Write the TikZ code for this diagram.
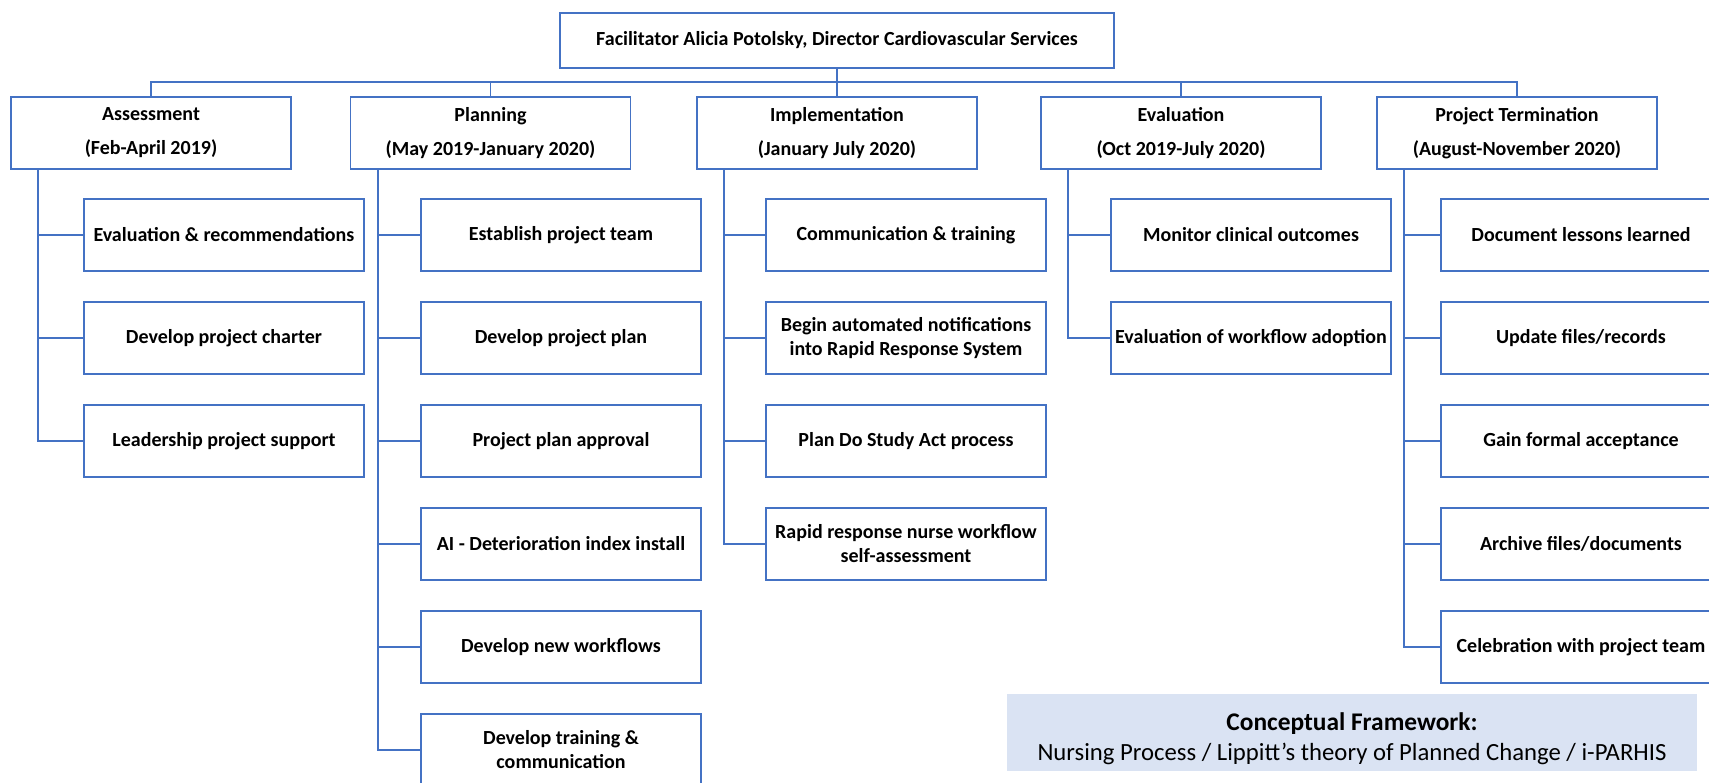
\documentclass[tikz,border=0pt]{standalone}
\usepackage{fontspec}
\setmainfont{Carlito}
\definecolor{lb}{HTML}{4472C4}
\definecolor{fw}{HTML}{DAE3F3}
\begin{document}
\begin{tikzpicture}[x=1pt,y=-1pt,
  box/.style={draw=lb, line width=1.6pt, fill=white, minimum width=280pt, minimum height=72pt,
    align=center, inner sep=0pt, font=\fontsize{20}{24}\selectfont\bfseries},
  phase/.style={box, font=\fontsize{20}{34}\selectfont\bfseries},
  link/.style={draw=lb, line width=1.6pt}]
\useasboundingbox (0,0) rectangle (1709,783);
\clip (0,0) rectangle (1709,783);
\fill[white] (0,0) rectangle (1709,783);
% top
\node[box, minimum width=554pt, minimum height=55pt] (top) at (837,40.5) {Facilitator Alicia Potolsky, Director Cardiovascular Services};
% phases
\node[phase] (ass) at (151,133) {Assessment\\(Feb-April 2019)};
\node[phase] (pla) at (490.5,133) {Planning\\(May 2019-January 2020)};
\node[phase] (imp) at (837,133) {Implementation\\(January July 2020)};
\node[phase] (eva) at (1181,133) {Evaluation\\(Oct 2019-July 2020)};
\node[phase] (ter) at (1517,133) {Project Termination\\(August-November 2020)};
% assessment children
\node[box] (a1) at (224,235) {Evaluation \& recommendations};
\node[box] (a2) at (224,338) {Develop project charter};
\node[box] (a3) at (224,441) {Leadership project support};
% planning children
\node[box] (p1) at (561,235) {Establish project team};
\node[box] (p2) at (561,338) {Develop project plan};
\node[box] (p3) at (561,441) {Project plan approval};
\node[box] (p4) at (561,544) {AI - Deterioration index install};
\node[box] (p5) at (561,647) {Develop new workflows};
\node[box] (p6) at (561,750) {Develop training \&\\communication};
% implementation children
\node[box] (i1) at (906,235) {Communication \& training};
\node[box] (i2) at (906,338) {Begin automated notifications\\into Rapid Response System};
\node[box] (i3) at (906,441) {Plan Do Study Act process};
\node[box] (i4) at (906,544) {Rapid response nurse workflow\\self-assessment};
% evaluation children
\node[box] (e1) at (1251,235) {Monitor clinical outcomes};
\node[box] (e2) at (1251,338) {Evaluation of workflow adoption};
% termination children
\node[box] (t1) at (1581,235) {Document lessons learned};
\node[box] (t2) at (1581,338) {Update files/records};
\node[box] (t3) at (1581,441) {Gain formal acceptance};
\node[box] (t4) at (1581,544) {Archive files/documents};
\node[box] (t5) at (1581,647) {Celebration with project team};
% framework
\node[fill=fw, minimum width=690pt, minimum height=77pt, inner sep=0pt] (fw) at (1352,732.5) {};
\node[align=center, inner sep=0pt, font=\fontsize{24.7}{30.5}\selectfont] (fwt) at ([yshift=-6pt]fw.center)
  {{\fontsize{25.4}{30.5}\selectfont\bfseries Conceptual Framework:}\\Nursing Process / Lippitt’s theory of Planned Change / i-PARHIS};
% bus
\coordinate (bus) at (0,82);
\draw[link] (top.south) -- (imp.north);
\draw[link] (ass.north) -- (ass.north |- bus) -- (ter.north |- bus) -- (ter.north);
\foreach \p in {pla,eva} \draw[link] (\p.north) -- (\p.north |- bus);
% drops
\foreach \c in {a1,a2,a3} \draw[link] ([xshift=28pt]ass.south west) |- (\c.west);
\foreach \c in {p1,p2,p3,p4,p5,p6} \draw[link] ([xshift=28pt]pla.south west) |- (\c.west);
\foreach \c in {i1,i2,i3,i4} \draw[link] ([xshift=28pt]imp.south west) |- (\c.west);
\foreach \c in {e1,e2} \draw[link] ([xshift=28pt]eva.south west) |- (\c.west);
\foreach \c in {t1,t2,t3,t4,t5} \draw[link] ([xshift=28pt]ter.south west) |- (\c.west);
\end{tikzpicture}
\end{document}
